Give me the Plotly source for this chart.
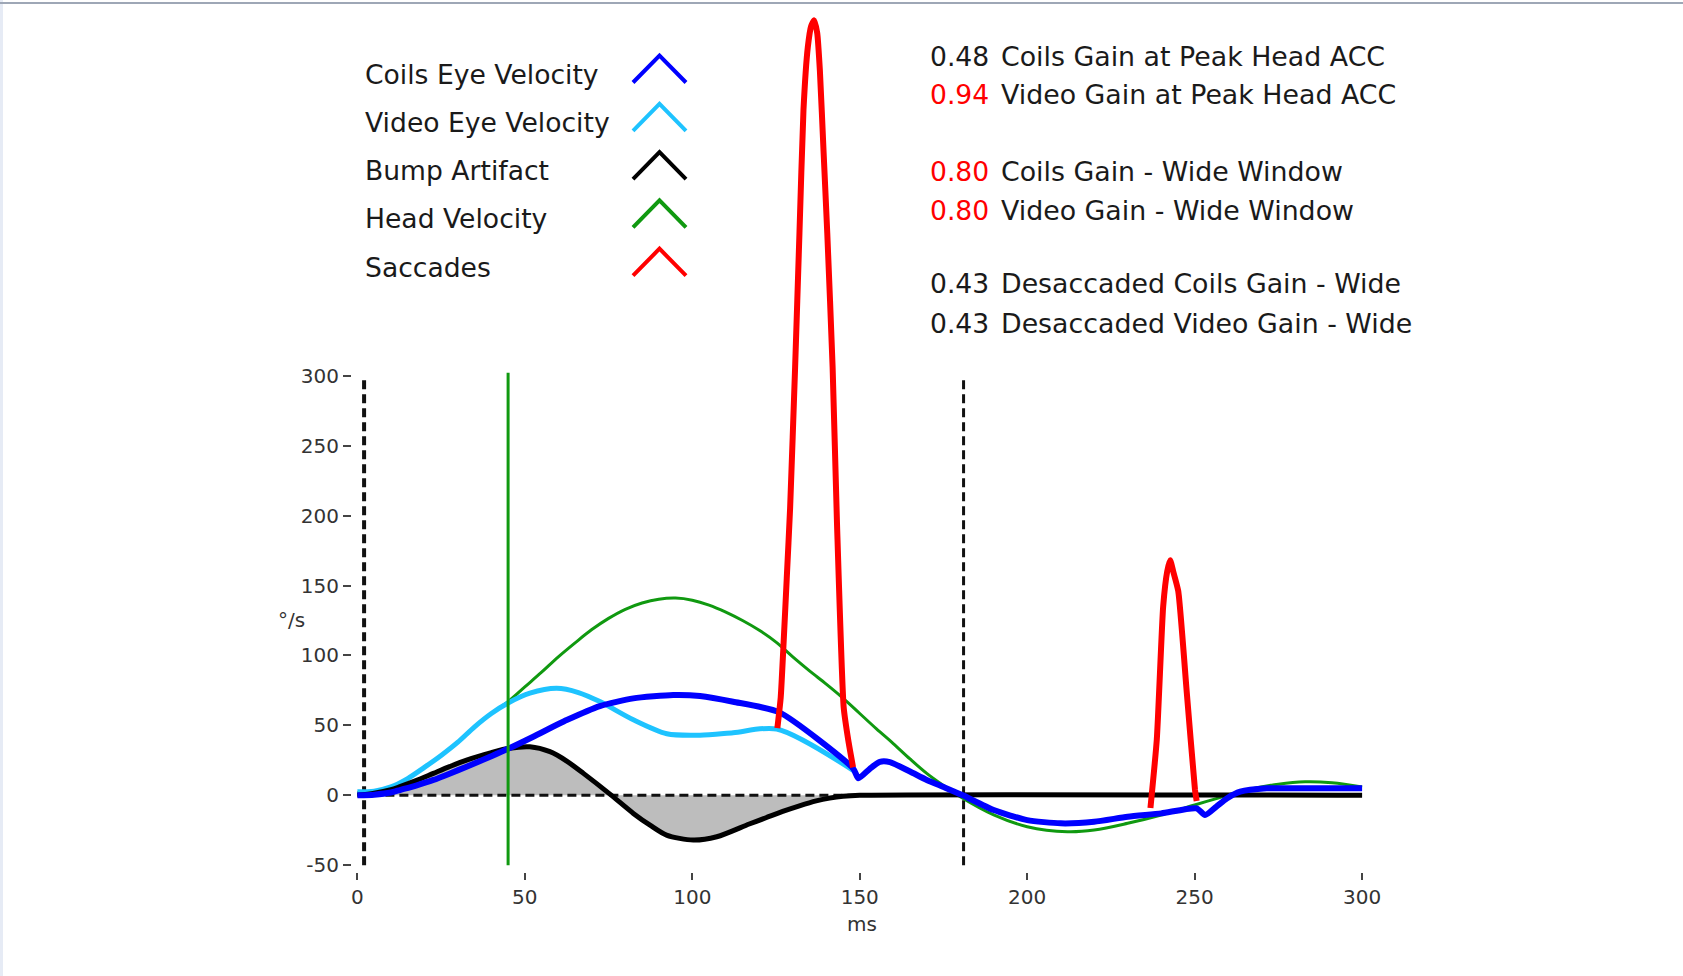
import plotly.graph_objects as go

# ---------------- data ----------------
head_t = [0, 5, 10, 15, 20, 25, 30, 35, 40, 45, 50, 55, 60, 65, 70, 75, 80, 85, 90, 95,
          100, 105, 110, 115, 120, 125, 130, 135, 140, 145, 150, 155, 160, 165, 170, 175,
          180, 190, 200, 212, 220, 230, 240, 250, 257, 266.5, 275, 283, 291, 300]
head_v = [2, 3, 6, 12, 20, 28.5, 38, 49, 58.5, 67, 77.5, 88, 99, 109, 118.5, 126.5, 133,
          137.5, 140.2, 141, 139.5, 136, 131, 125, 118, 109.5, 99, 89, 79.5, 69.5, 58.5,
          47.5, 37, 26, 15.7, 7, -1, -14, -22.4, -26, -24.8, -20, -14, -6.9,
          -2, 4.3, 8, 9.7, 9, 6]

video_t = [0, 5, 10, 15, 20, 25, 30, 35, 40, 45, 51.5, 59.5, 66, 72.4, 82.4, 92.4, 102.3,
           112.2, 125.2, 148.6]
video_v = [2.5, 3, 6, 12, 20, 28.5, 38, 49, 58.5, 66, 73, 76.5, 73.5, 67, 54, 44, 43,
           44.8, 47.4, 17]

coils_t = [0, 5, 10, 12.7, 17.5, 22.7, 27.5, 32.6, 40, 45.3, 52.5, 62.5, 72.4, 82.4, 94.3,
           102.3, 112.2, 126, 148, 149.6, 153, 156, 159, 165, 170, 175.5, 180.6,
           190, 200, 210, 220, 230, 240, 250.6, 253.1, 256.5, 259.6, 263.6, 271.5, 285, 300]
coils_v = [0, 0.5, 2, 3.8, 7, 11, 15.5, 20.5, 28, 33.6, 41.9, 53.8, 63.8, 69.3, 71.7,
           71, 66.9, 59.3, 19.3, 12.2, 19, 24, 23.8, 17, 11, 5.5, 0.2,
           -10.5, -17.7, -20, -18.9, -15.3, -12.9, -9.3, -14.1, -8, -2.2, 2.6, 5, 5, 5]

bump_t = [0, 5, 10, 12.7, 17.5, 22.7, 27.5, 32.6, 40, 45.3, 51.5, 57.5, 62.5, 67.5, 75.4,
          82.4, 87.5, 92.3, 100.3, 107.3, 117, 122, 127, 132, 137, 141, 145, 150, 300]
bump_v = [0, 1.5, 4, 6.2, 10.5, 15.7, 20.5, 25.2, 30.5, 33.6, 34.7, 31.2, 24.5, 15.7, 0.9,
          -12.9, -21.5, -28.4, -32, -29.6, -20.5, -16, -11.5, -7.5, -4, -2, -0.7, 0, 0]

sacc1_t = [125.4, 126.4, 127.2, 128.2, 129.2, 130.7, 132, 133.2, 134.5, 135.5, 136.4, 137.3,
           138.1, 139.2, 140.3, 141.9, 143.2, 145.2, 146.6, 148]
sacc1_v = [48, 70, 106, 155, 205, 306, 402, 490, 535, 550, 554, 545,
           518, 460, 402, 306, 195, 63, 39, 20]

sacc2_t = [236.8, 238.7, 240.6, 241.8, 242.7, 243.6, 245.1, 247.6, 250.1, 250.6]
sacc2_v = [-9, 40, 135, 160, 168, 160, 146, 75, 4, -4]

peak_acc_ms = 45
window_ms = [2, 181]
marker_span = [-50, 302]

x_ticks = [0, 50, 100, 150, 200, 250, 300]
y_ticks = [-50, 0, 50, 100, 150, 200, 250, 300]
y_tick_text = ["-50", "0", "50", "100", "150", "200", "250", "300"]

legend_labels = ["Coils Eye Velocity", "Video Eye Velocity", "Bump Artifact",
                 "Head Velocity", "Saccades"]
legend_colors = ["#0000ff", "#1ec3ff", "#000000", "#109910", "#ff0000"]

gain_values = ["0.48", "0.94", "0.80", "0.80", "0.43", "0.43"]
gain_value_colors = ["#1a1a1a", "#ff0000", "#ff0000", "#ff0000", "#1a1a1a", "#1a1a1a"]
gain_labels = ["Coils Gain at Peak Head ACC", "Video Gain at Peak Head ACC",
               "Coils Gain - Wide Window", "Video Gain - Wide Window",
               "Desaccaded Coils Gain - Wide", "Desaccaded Video Gain - Wide"]

# ---------------- geometry ----------------
W, H = 1683, 976
L, R, T, B = 352, 1369, 10, 872   # plot area edges in pixels


def px(x):
    return (x - L) / (R - L)


def py(y):
    return (B - y) / (B - T)


FONT = "DejaVu Sans"
TXT = "#1a1a1a"
BLUE, CYAN, BLACK, GREEN, RED = legend_colors

fig = go.Figure()

# gray area under bump artifact
fig.add_trace(go.Scatter(x=bump_t, y=bump_v, mode="lines", fill="tozeroy",
                         fillcolor="#bdbdbd", line=dict(width=0, shape="spline", smoothing=0.8),
                         hoverinfo="skip", showlegend=False))
# zero dashed line
fig.add_trace(go.Scatter(x=[x_ticks[0], x_ticks[-1]], y=[0, 0], mode="lines",
                         line=dict(color="#111", width=3, dash="9px,5px"), showlegend=False))
# window dashed lines
for wx, ww in zip(window_ms, [4, 3]):
    fig.add_trace(go.Scatter(x=[wx, wx], y=[y_ticks[0], y_ticks[-1]], mode="lines",
                             line=dict(color="#111", width=ww, dash="9px,5px"), showlegend=False))

fig.add_trace(go.Scatter(x=head_t, y=head_v, mode="lines", name="Head Velocity",
                         line=dict(color=GREEN, width=3, shape="spline", smoothing=1.0)))
fig.add_trace(go.Scatter(x=video_t, y=video_v, mode="lines", name="Video Eye Velocity",
                         line=dict(color=CYAN, width=5, shape="spline", smoothing=0.8)))
fig.add_trace(go.Scatter(x=bump_t, y=bump_v, mode="lines", name="Bump Artifact",
                         line=dict(color=BLACK, width=5, shape="spline", smoothing=0.8)))
fig.add_trace(go.Scatter(x=coils_t, y=coils_v, mode="lines", name="Coils Eye Velocity",
                         line=dict(color=BLUE, width=6, shape="spline", smoothing=0.6)))
for st, sv in [(sacc1_t, sacc1_v), (sacc2_t, sacc2_v)]:
    fig.add_trace(go.Scatter(x=st, y=sv, mode="lines", name="Saccades",
                             line=dict(color=RED, width=6, shape="spline", smoothing=0.5)))
# peak head acceleration marker
fig.add_trace(go.Scatter(x=[peak_acc_ms, peak_acc_ms], y=marker_span, mode="lines",
                         line=dict(color=GREEN, width=3), showlegend=False))

annotations = []
shapes = []

# custom legend
for i, (lab, col) in enumerate(zip(legend_labels, legend_colors)):
    d = 48.3 * i
    annotations.append(dict(xref="paper", yref="paper", x=px(363), y=py(74 + d),
                            text=lab, showarrow=False, xanchor="left", yanchor="middle",
                            font=dict(family=FONT, size=26.6, color=TXT)))
    shapes.append(dict(type="path", xref="paper", yref="paper",
                       path=f"M {px(633)},{py(82.5 + d)} L {px(659.5)},{py(55.5 + d)} "
                            f"L {px(686)},{py(82.5 + d)}",
                       line=dict(color=col, width=4)))

# gain texts
gain_y = [56.5, 94.5, 172, 210.5, 283.5, 323]
for v, c, lab, gy in zip(gain_values, gain_value_colors, gain_labels, gain_y):
    annotations.append(dict(xref="paper", yref="paper", x=px(928), y=py(gy), text=v,
                            showarrow=False, xanchor="left", yanchor="middle",
                            font=dict(family=FONT, size=26.6, color=c)))
    annotations.append(dict(xref="paper", yref="paper", x=px(999), y=py(gy), text=lab,
                            showarrow=False, xanchor="left", yanchor="middle",
                            font=dict(family=FONT, size=26.8, color=TXT)))

# axis titles
annotations.append(dict(xref="paper", yref="paper", x=px(862), y=py(924), text="ms",
                        showarrow=False, xanchor="center", yanchor="middle",
                        font=dict(family=FONT, size=20, color="#333")))
annotations.append(dict(xref="paper", yref="paper", x=px(291), y=py(620), text="°/s",
                        showarrow=False, xanchor="center", yanchor="middle",
                        font=dict(family=FONT, size=20, color="#333")))

# page frame
shapes.append(dict(type="rect", xref="paper", yref="paper", x0=px(0), x1=px(3),
                   y0=py(H), y1=py(0), line=dict(width=0), fillcolor="#e6ebf5", layer="below"))
shapes.append(dict(type="line", xref="paper", yref="paper", x0=px(0), x1=px(W),
                   y0=py(3), y1=py(3), line=dict(color="#9ea7b6", width=2)))

fig.update_layout(
    width=W, height=H,
    margin=dict(l=L, r=W - R, t=T, b=H - B, autoexpand=False),
    paper_bgcolor="white", plot_bgcolor="white",
    showlegend=False,
    annotations=annotations, shapes=shapes,
    xaxis=dict(range=[-1.61, 302.06], tickvals=x_ticks, ticks="outside", ticklen=7,
               tickwidth=2, tickcolor="#444", showgrid=False, zeroline=False, showline=False,
               tickfont=dict(family=FONT, size=20, color="#333")),
    yaxis=dict(range=[-54.8, 561.4], tickvals=y_ticks, ticktext=y_tick_text,
               ticks="outside", ticklen=8,
               tickwidth=2, tickcolor="#444", showgrid=False, zeroline=False, showline=False,
               tickfont=dict(family=FONT, size=20, color="#333")),
)

fig.write_html("out.html")
